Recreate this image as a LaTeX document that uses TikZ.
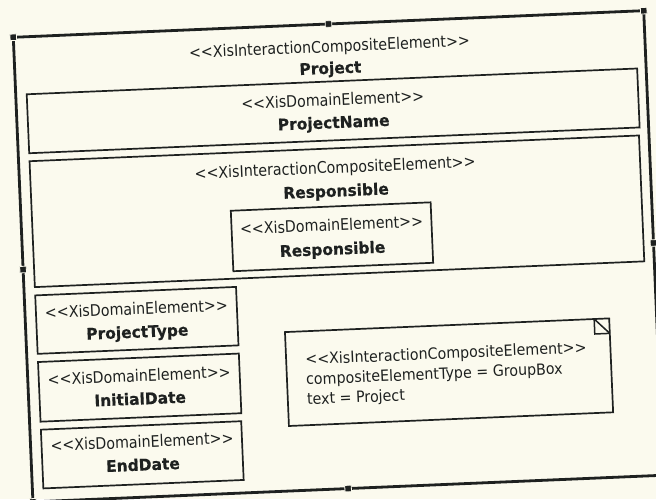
\documentclass[tikz,border=0pt]{standalone}
\usepackage{fontspec}
\newfontfamily\stfont{DejaVu Sans}[FakeStretch=0.89]
\newfontfamily\nmfont{DejaVu Sans}[FakeStretch=0.965, FakeBold=0.5]
\newfontfamily\notefont{DejaVu Sans}[FakeStretch=0.92]
\definecolor{paper}{RGB}{251,250,238}
\definecolor{ink}{RGB}{30,33,32}
\tikzset{
  outerframe/.style={draw=ink, line width=2.8pt, rectangle, inner sep=0pt, outer sep=0pt, anchor=north west},
  box/.style={draw=ink, line width=1.7pt, rectangle, inner sep=0pt, outer sep=0pt, anchor=north west},
  stereo/.style={text=ink, inner sep=0pt, font=\stfont\fontsize{16pt}{19pt}\selectfont, text height=12pt, text depth=3.4pt},
  elname/.style={text=ink, inner sep=0pt, font=\nmfont\bfseries\fontsize{16pt}{19pt}\selectfont, text height=12pt, text depth=3.4pt},
  notetext/.style={text=ink, inner sep=0pt, font=\notefont\fontsize{15.5pt}{19pt}\selectfont, anchor=base west},
  handle/.style={fill=ink, draw=paper, line width=0.8pt, minimum size=6.5pt, inner sep=0pt, rectangle},
  fold/.style={draw=ink, line width=1.5pt},
}
\begin{document}
\begin{tikzpicture}[x=1pt,y=1pt]
\fill[paper] (0,0) rectangle (656,-499);
\useasboundingbox (0,0) rectangle (656,-499);
\begin{scope}[shift={(13.3,-37.3)}, rotate=2.42, y=-1pt, transform shape]
  % outer group box
  \node[outerframe, minimum width=631pt, minimum height=465pt] (frame) at (0,0) {};
  \node[stereo] (frame-st) at (315.5,24) {<<XisInteractionCompositeElement>>};
  \node[elname] (frame-nm) at (315.5,45.5) {Project};

  % ProjectName
  \node[box, minimum width=611pt, minimum height=59pt] (pn) at (11,57.5) {};
  \node[stereo] (pn-st) at (316.5,77.5) {<<XisDomainElement>>};
  \node[elname] (pn-nm) at (316.5,100) {ProjectName};

  % Responsible group
  \node[box, minimum width=610pt, minimum height=126pt] (resp) at (11,124.5) {};
  \node[stereo] (resp-st) at (316,145) {<<XisInteractionCompositeElement>>};
  \node[elname] (resp-nm) at (316,168.5) {Responsible};
  \node[box, minimum width=200pt, minimum height=60.5pt] (respin) at (210,182.5) {};
  \node[stereo] (respin-st) at (310,202.5) {<<XisDomainElement>>};
  \node[elname] (respin-nm) at (310,226.5) {Responsible};

  % left column of domain elements
  \node[box, minimum width=201pt, minimum height=58.5pt] (pt) at (11,258.8) {};
  \node[stereo] (pt-st) at (111.5,278) {<<XisDomainElement>>};
  \node[elname] (pt-nm) at (111.5,301) {ProjectType};
  \node[box, minimum width=201pt, minimum height=59.7pt] (id) at (11,325.5) {};
  \node[stereo] (id-st) at (111.5,345) {<<XisDomainElement>>};
  \node[elname] (id-nm) at (111.5,368) {InitialDate};
  \node[box, minimum width=200.5pt, minimum height=58.8pt] (ed) at (11,393.2) {};
  \node[stereo] (ed-st) at (111.5,411) {<<XisDomainElement>>};
  \node[elname] (ed-nm) at (111.5,434) {EndDate};

  % note with folded corner
  \node[box, minimum width=324.5pt, minimum height=94pt] (note) at (259,306) {};
  \coordinate (foldtop) at (568.5,306);
  \coordinate (foldin) at (568.5,321);
  \coordinate (foldside) at (583.5,321);
  \draw[fold] (foldtop) -- (foldin) -- (foldside);
  \draw[fold] (foldtop) -- (foldside);
  \node[notetext] (note-1) at (278,339.5) {<<XisInteractionCompositeElement>>};
  \node[notetext] (note-2) at (278,359.5) {compositeElementType = GroupBox};
  \node[notetext] (note-3) at (278,379.5) {text = Project};

  % selection handles
  \foreach \a in {north west,north,north east,east,south east,south,south west,west}
    \node[handle] (h-\a) at (frame.\a) {};
\end{scope}
\end{tikzpicture}
\end{document}
